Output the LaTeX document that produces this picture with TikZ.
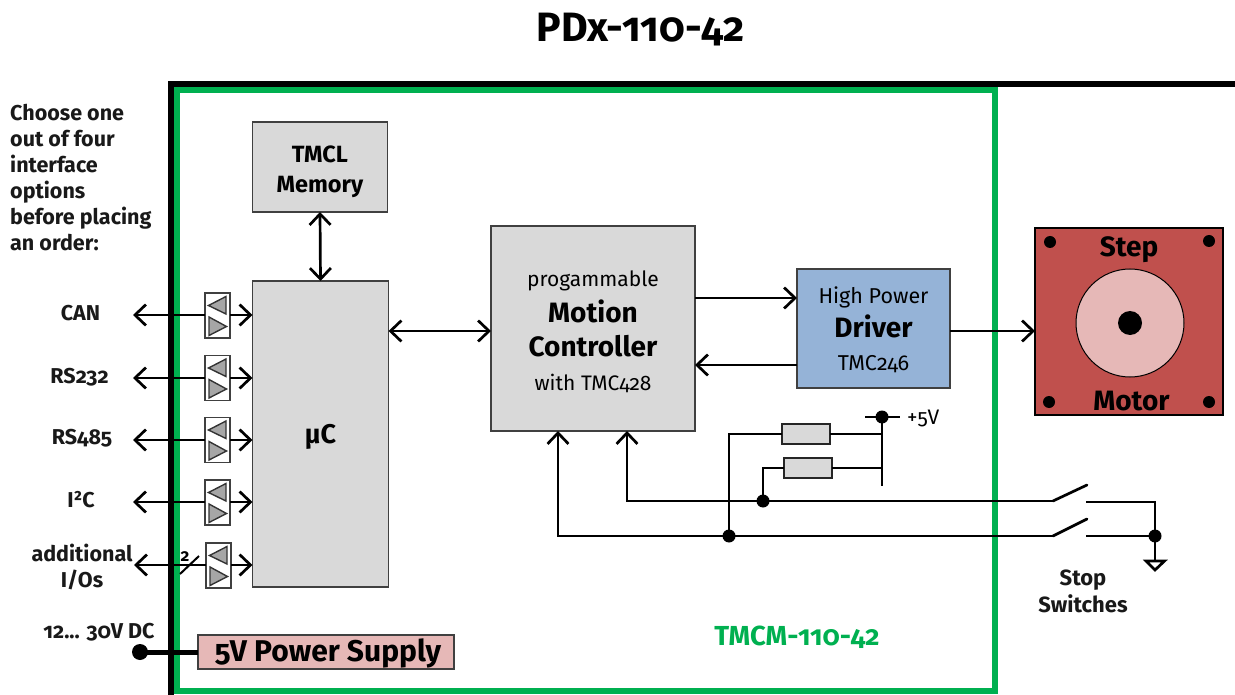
\documentclass[tikz,border=0pt]{standalone}
\usepackage{fontspec}
\setmainfont[Numbers=OldStyle]{Fira Sans}
\usetikzlibrary{arrows.meta,positioning,calc}
\definecolor{boxgray}{HTML}{D9D9D9}
\definecolor{tmcgreen}{HTML}{00B050}
\definecolor{drvblue}{HTML}{95B3D7}
\definecolor{motred}{HTML}{C0504D}
\definecolor{motpink}{HTML}{E6B8B7}
\definecolor{trigray}{HTML}{A6A6A6}
\newcommand{\fsz}[1]{\fontsize{#1}{#1}\selectfont}
\tikzset{
  x=1pt,y=-1pt,
  wire/.style={line width=2.7pt,line join=miter},
  barb/.tip={Straight Barb[length=11pt,width=21pt,line width=2.7pt]},
  oneway/.style={wire,-barb},
  twoway/.style={wire,barb-barb},
  block/.style={draw=black!75,line width=1.6pt,fill=boxgray,minimum width=0pt,minimum height=0pt,inner sep=0pt,outer sep=0pt,align=center,text=black},
  lab/.style={font=\fsz{21.5}\bfseries,align=center,inner sep=0pt,text=black!90},
  dotn/.style={circle,fill=black,inner sep=0pt,minimum size=#1,outer sep=0pt},
  ifbox/.style={draw=black!75,line width=1.3pt,fill=white,minimum width=25pt,minimum height=45pt,inner sep=0pt,outer sep=0pt},
  tri/.style={draw=black!80,line width=1.4pt,fill=trigray,line join=miter},
  res/.style={draw=black!85,line width=1.5pt,fill=boxgray,minimum width=48pt,minimum height=20pt,inner sep=0pt,outer sep=0pt},
}
\newcommand{\ifrow}[3]{% name, box centre x, box centre y
  \node[ifbox] (#1) at (#2,#3) {};
  \draw[tri] ($(#1.center)+(8.5,-19)$) -- ($(#1.center)+(8.5,-1.5)$) -- ($(#1.center)+(-9,-10)$) -- cycle;
  \draw[tri] ($(#1.center)+(-8.5,1.5)$) -- ($(#1.center)+(-8.5,20)$) -- ($(#1.center)+(9,11)$) -- cycle;
}
\begin{document}
\begin{tikzpicture}
\useasboundingbox (0,0) rectangle (1235,695);
% frames
\draw[line width=5.5pt,black] (171,695) -- (171,84) -- (1235,84);
\draw[line width=5.5pt,tmcgreen] (177,90) rectangle (995,691);
% title
\node[font=\fsz{41}\bfseries,inner sep=0pt] (title) at (640.5,30) {PDx-110-42};
% blocks
\node[block,minimum width=135pt,minimum height=90pt,font=\fsz{23.5}\bfseries] (mem) at (320,167) {\rule{0pt}{26pt}TMCL\\[6pt]Memory};
\node[block,minimum width=136pt,minimum height=306pt,font=\fsz{27}\bfseries] (uc) at (320.5,434) {\rule{0pt}{25pt}µC};
\node[block,minimum width=204pt,minimum height=205pt] (mc) at (593,328.5) {{\fsz{21}\rule{0pt}{22pt}progammable}\\[8pt]{\fsz{28}\bfseries Motion}\\[11pt]{\fsz{28}\bfseries Controller}\\[16pt]{\fsz{21}with TMC428}};
\node[block,fill=drvblue,minimum width=153pt,minimum height=119pt] (drv) at (873.5,328.5) {{\fsz{21.5}\rule{0pt}{20pt}High Power}\\[5pt]{\fsz{28}\bfseries Driver}\\[17pt]{\fsz{21.5}TMC246}};
\node[block,draw=black,fill=motred,minimum width=188pt,minimum height=187pt] (mot) at (1129,321.5) {};
\node[circle,draw=black,line width=1pt,fill=motpink,minimum size=108pt,inner sep=0pt] (rotor) at (1130,323) {};
\node[dotn=24pt] (shaft) at (rotor.center) {};
\node[dotn=12pt] (h1) at (1050,242) {};
\node[dotn=12pt] (h2) at (1209,241) {};
\node[dotn=12pt] (h3) at (1049,402) {};
\node[dotn=12pt] (h4) at (1209,402) {};
\node[font=\fsz{28}\bfseries,inner sep=0pt] (steplab) at (1129,250) {Step};
\node[font=\fsz{28}\bfseries,inner sep=0pt] (motlab) at (1131.5,401) {Motor};
\node[block,fill=motpink,minimum width=256pt,minimum height=34pt,font=\fsz{30}\bfseries] (psu) at (326,652) {\rule{4pt}{0pt}\rule{0pt}{26pt}5V Power Supply};
% interface buffers
\ifrow{b1}{217.5}{315.5}
\ifrow{b2}{217.5}{378}
\ifrow{b3}{217.5}{440}
\ifrow{b4}{217.5}{502.5}
\ifrow{b5}{218.5}{565.5}
% free ends
\coordinate (e1) at (133,315);
\coordinate (e2) at (133,378);
\coordinate (e3) at (133,440);
\coordinate (e4) at (133,502);
\coordinate (e5) at (134,565);
\foreach \n/\b in {e1/b1,e2/b2,e3/b3,e4/b4,e5/b5}{
  \draw[wire,barb-] (\n) -- (\n -| \b.west);
  \draw[wire,-barb] (\n -| \b.east) -- (\n -| uc.west);
}
% bus marker
\coordinate (s1) at (180,574);
\coordinate (s2) at (199,556);
\draw[line width=2pt] (s1) -- (s2);
\node[font=\fsz{17}\bfseries,inner sep=0pt] (two) at (185,556.5) {2};
% main connectors
\draw[twoway] (mem.south) -- (uc.north);
\draw[twoway] (uc.east |- 0,331) -- (mc.west |- 0,331);
\draw[oneway] (mc.east |- 0,298) -- (drv.west |- 0,298);
\draw[oneway] (drv.west |- 0,365) -- (mc.east |- 0,365);
\draw[oneway] (drv.east |- 0,331) -- (mot.west |- 0,331);
% stop switch network
\node[dotn=13pt] (j1) at (763,501) {};
\node[dotn=13pt] (j2) at (729,536) {};
\node[dotn=13pt] (vdot) at (882,417) {};
\node[dotn=13pt] (gnd) at (1155,536) {};
\node[res] (r1) at (806,434) {};
\node[res] (r2) at (808,468) {};
\coordinate (sw1a) at (1053,501);
\coordinate (sw1b) at (1087,485);
\coordinate (sw1c) at (1086,502);
\coordinate (sw2a) at (1053,536);
\coordinate (sw2b) at (1087,519);
\coordinate (sw2c) at (1086,536);
\coordinate (vbot) at (882,486);
\coordinate (vl) at (865,417);
\coordinate (vr) at (900,417);
\draw[wire,-barb] (sw1a) -- (627,501) -- (627,431);
\draw[wire,-barb] (sw2a) -- (558,536) -- (558,431);
\draw[wire,line cap=round] (sw1a) -- (sw1b);
\draw[wire,line cap=round] (sw2a) -- (sw2b);
\draw[wire] (sw1c) -- (1155,502) -- (gnd.center);
\draw[wire] (sw2c) -- (gnd.center);
\draw[wire] (gnd.center) -- (1155,561);
\draw[wire,fill=white] (1146,561) -- (1164.5,561) -- (1155,570) -- cycle;
\draw[wire] (j2.center) -- (729,434) -- (r1.west);
\draw[wire] (r1.east) -- (882,434);
\draw[wire] (j1.center) -- (763,468) -- (r2.west);
\draw[wire] (r2.east) -- (882,468);
\draw[wire] (vdot.center) -- (vbot);
\draw[line width=1.4pt] (vl) -- (vr);
\node[font=\fsz{21},inner sep=0pt,anchor=west] (v5) at (907,418) {+5V};
% power
\node[dotn=16pt] (pin) at (140,652) {};
\draw[line width=5pt] (pin.center) -- (psu.west);
% labels
\node[lab,anchor=north west,align=left] (choose) at (10,104) {%
 \rule{0pt}{15pt}Choose one\\[4.5pt]out of four\\[4.5pt]interface\\[4.5pt]options\\[3pt]before placing\\[4pt]an order:};
\node[lab] (can) at (80.5,313) {CAN};
\node[lab] (rs2) at (79.5,377) {RS232};
\node[lab] (rs4) at (82,438.5) {RS485};
\node[lab] (i2c) at (81,500) {I²C};
\node[lab] (add) at (82,567) {additional\\[4.5pt]I/Os};
\node[lab] (vdc) at (99,632) {12... 30V DC};
\node[lab,font=\fsz{22}\bfseries] (ss) at (1083,591) {Stop\\[3.5pt]Switches};
\node[font=\fsz{27.5}\bfseries,text=tmcgreen,inner sep=0pt] (tmcm) at (797,637) {TMCM-110-42};
\end{tikzpicture}
\end{document}
